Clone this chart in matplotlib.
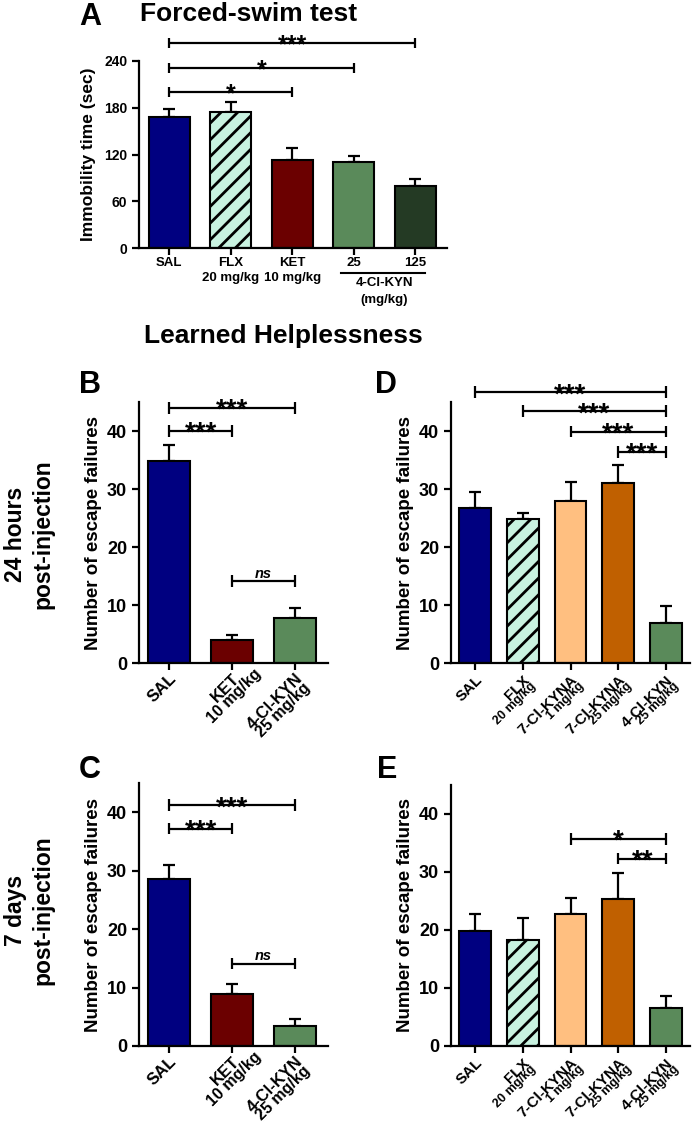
import matplotlib
matplotlib.use('Agg')
import matplotlib.pyplot as plt
import numpy as np
from matplotlib.font_manager import FontProperties

plt.rcParams['font.family'] = ['Liberation Sans', 'DejaVu Sans']
plt.rcParams['font.weight'] = 'bold'
plt.rcParams['axes.labelweight'] = 'bold'
plt.rcParams['hatch.linewidth'] = 2.0
plt.rcParams['hatch.color'] = 'black'
plt.rcParams['axes.linewidth'] = 1.6

# ---- данные ----
# A: forced-swim
a_names = ['SAL', 'FLX', 'KET', '25', '125']
a_doses = ['', '20 mg/kg', '10 mg/kg', '', '']
a_means = [168, 174, 113, 110, 79]
a_sem = [11, 13, 15, 8, 9]
a_colors = ['#000080', '#c8f2e0', '#6b0000', '#5a8a5a', '#243a24']
a_hatch = ['', '//', '', '', '']
a_sig = [(0, 2, 200, '*'), (0, 3, 231, '*'), (0, 4, 263, '***')]

# B, C: SAL / KET / 4-Cl-KYN
bc_names = ['SAL', 'KET', '4-Cl-KYN']
bc_doses = ['', '10 mg/kg', '25 mg/kg']
bc_colors = ['#000080', '#6b0000', '#5a8a5a']
b_means = [34.9, 3.9, 7.8]
b_sem = [2.7, 1.0, 1.6]
b_sig = [(0, 1, 40.0, '***'), (0, 2, 44.0, '***'), (1, 2, 14.1, 'ns')]
c_means = [28.5, 8.9, 3.5]
c_sem = [2.5, 1.7, 1.1]
c_sig = [(0, 1, 37.2, '***'), (0, 2, 41.2, '***'), (1, 2, 14.1, 'ns')]

# D, E
de_names = ['SAL', 'FLX', '7-Cl-KYNA', '7-Cl-KYNA', '4-Cl-KYN']
de_doses = ['', '20 mg/kg', '1 mg/kg', '25 mg/kg', '25 mg/kg']
de_colors = ['#000080', '#c8f2e0', '#ffbf80', '#c06000', '#5a8a5a']
de_hatch = ['', '//', '', '', '']
d_means = [26.8, 24.8, 27.9, 31.1, 6.9]
d_sem = [2.6, 1.1, 3.3, 3.0, 2.9]
d_sig = [(0, 4, 46.7, '***'), (1, 4, 43.4, '***'), (2, 4, 39.9, '***'), (3, 4, 36.4, '***')]
e_means = [19.8, 18.3, 22.8, 25.3, 6.5]
e_sem = [2.9, 3.8, 2.8, 4.5, 2.2]
e_sig = [(2, 4, 35.7, '*'), (3, 4, 32.3, '**')]

W, H = 694, 1125
fig = plt.figure(figsize=(W / 100, H / 100), dpi=100)


def px_axes(left, right, top, bottom):
    return fig.add_axes([left / W, 1 - bottom / H, (right - left) / W, (bottom - top) / H])


def bars(ax, means, sem, colors, hatch=None, width=0.667):
    x = np.arange(len(means))
    b = ax.bar(x, means, width=width, color=colors, edgecolor='black', linewidth=1.5, zorder=2)
    if hatch:
        for p, h in zip(b, hatch):
            p.set_hatch(h)
    ax.errorbar(x, means, yerr=[np.zeros(len(sem)), sem], fmt='none', ecolor='black',
                elinewidth=1.6, capsize=4.2, capthick=1.6, zorder=1)
    for s in ['top', 'right']:
        ax.spines[s].set_visible(False)
    ax.set_xticks(x)
    ax.set_xticklabels([])
    ax.tick_params(direction='out', length=5, width=1.6)


def bracket(ax, i, j, y, label, cap, fs):
    kw = dict(color='black', lw=1.6, clip_on=False, solid_capstyle='butt')
    ax.plot([i, j], [y, y], **kw)
    ax.plot([i, i], [y - cap, y + cap], **kw)
    ax.plot([j, j], [y - cap, y + cap], **kw)
    if label == 'ns':
        ax.annotate(label, xy=((i + j) / 2, y), xytext=(0, 0.5), textcoords='offset points',
                    ha='center', va='bottom', fontsize=10.5, style='italic',
                    annotation_clip=False)
    else:
        ax.annotate(label, xy=((i + j) / 2, y), xytext=(0, -fs * 0.36), textcoords='offset points',
                    ha='center', va='baseline', fontsize=fs, annotation_clip=False)


def rot_labels(ax, names, doses, centered, fs1, fs2, gap, dy=-15):
    r = fig.canvas.get_renderer()
    c = s = np.sqrt(0.5)
    dx = 5
    for i, (nm, ds) in enumerate(zip(names, doses)):
        ax.annotate(nm, xy=(i, 0), xycoords=('data', 'axes fraction'), xytext=(dx, dy),
                    textcoords='offset pixels', rotation=45, rotation_mode='anchor',
                    ha='right', va='center', fontsize=fs1)
        if not ds:
            continue
        if centered:
            w1 = r.get_text_width_height_descent(
                nm, FontProperties(family='Liberation Sans', weight='bold', size=fs1), ismath=False)[0]
            cx = dx - w1 / 2 * c + gap * s
            cy = dy - w1 / 2 * s - gap * c
            ha = 'center'
        else:
            cx = dx + gap * s
            cy = dy - gap * c
            ha = 'right'
        ax.annotate(ds, xy=(i, 0), xycoords=('data', 'axes fraction'), xytext=(cx, cy),
                    textcoords='offset pixels', rotation=45, rotation_mode='anchor',
                    ha=ha, va='center', fontsize=fs2)


# ---- A ----
axA = px_axes(139, 447, 61, 248)
bars(axA, a_means, a_sem, a_colors, a_hatch)
axA.set_xlim(-0.49, 4.52)
axA.set_ylim(0, 240)
axA.set_yticks([0, 60, 120, 180, 240])
axA.tick_params(labelsize=10)
axA.set_ylabel('Immobility time (sec)', fontsize=12.5, labelpad=6)
for i in range(len(a_names)):
    axA.annotate(a_names[i], xy=(i, 0), xycoords=('data', 'axes fraction'), xytext=(0, -15),
                 textcoords='offset pixels', ha='center', va='center', fontsize=9.5)
    if a_doses[i]:
        axA.annotate(a_doses[i], xy=(i, 0), xycoords=('data', 'axes fraction'), xytext=(0, -30),
                     textcoords='offset pixels', ha='center', va='center', fontsize=9.5)
axA.plot([2.8, 4.17], [-0.134, -0.134], color='black', lw=1.5,
         transform=axA.get_xaxis_transform(), clip_on=False)
axA.text(3.5, -0.188, '4-Cl-KYN', transform=axA.get_xaxis_transform(), ha='center', va='center', fontsize=9.5)
axA.text(3.5, -0.278, '(mg/kg)', transform=axA.get_xaxis_transform(), ha='center', va='center', fontsize=9.5)
for i, j, y, lab in a_sig:
    bracket(axA, i, j, y, lab, 6, 18)

# ---- B, C ----
axB = px_axes(139, 328, 402, 663)
axC = px_axes(139, 328, 783, 1046)
for ax, m, e, sig in [(axB, b_means, b_sem, b_sig), (axC, c_means, c_sem, c_sig)]:
    bars(ax, m, e, bc_colors)
    ax.set_xlim(-0.476, 2.52)
    ax.set_ylim(0, 45)
    ax.set_yticks([0, 10, 20, 30, 40])
    ax.tick_params(labelsize=13)
    ax.set_ylabel('Number of escape failures', fontsize=13.5, labelpad=4)
    rot_labels(ax, bc_names, bc_doses, True, 12, 11.5, 12, dy=-13)
    for i, j, y, lab in sig:
        bracket(ax, i, j, y, lab, 1.0, 20)

# ---- D, E ----
axD = px_axes(451, 690, 402, 663)
axE = px_axes(451, 690, 785, 1046)
for ax, m, e, sig in [(axD, d_means, d_sem, d_sig), (axE, e_means, e_sem, e_sig)]:
    bars(ax, m, e, de_colors, de_hatch)
    ax.set_xlim(-0.5, 4.5)
    ax.set_ylim(0, 45)
    ax.set_yticks([0, 10, 20, 30, 40])
    ax.tick_params(labelsize=13)
    ax.set_ylabel('Number of escape failures', fontsize=13.5, labelpad=4)
    rot_labels(ax, de_names, de_doses, False, 11, 9, 9)
    for i, j, y, lab in sig:
        bracket(ax, i, j, y, lab, 1.0, 20)

# ---- заголовки ----
def ftext(x, y, s, **kw):
    fig.text(x / W, 1 - y / H, s, **kw)

ftext(90, 25, 'A', ha='center', va='baseline', fontsize=22)
ftext(249, 21, 'Forced-swim test', ha='center', va='baseline', fontsize=19)
ftext(283, 343, 'Learned Helplessness', ha='center', va='baseline', fontsize=19)
ftext(90, 393, 'B', ha='center', va='baseline', fontsize=22)
ftext(386, 393, 'D', ha='center', va='baseline', fontsize=22)
ftext(90, 778, 'C', ha='center', va='baseline', fontsize=22)
ftext(387, 778, 'E', ha='center', va='baseline', fontsize=22)
ftext(29, 534, '24 hours\npost-injection', ha='center', va='center', rotation=90,
      fontsize=16.5, linespacing=1.25)
ftext(29, 910, '7 days\npost-injection', ha='center', va='center', rotation=90,
      fontsize=16.5, linespacing=1.25)

fig.savefig('out.png', dpi=100)
